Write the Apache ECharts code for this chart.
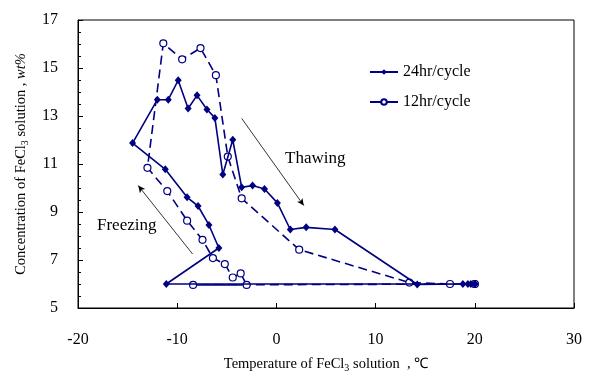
<!DOCTYPE html>
<html>
<head>
<meta charset="utf-8">
<script src="https://cdn.jsdelivr.net/npm/echarts@6/dist/echarts.min.js"></script>
<style>
  html, body { margin: 0; padding: 0; background: #fff; }
  #chart { width: 589px; height: 372px; }
</style>
</head>
<body>
<div id="chart"></div>
<script>
(function(){

    // 24hr/cycle : temperature (°C) and concentration (wt%), in recorded order
    var t24 = [20, -11.1, -5.8, -6.8, -7.9, -9.0, -11.2, -14.5, -12.0, -10.9, -9.9, -8.9, -8.0, -7.0, -6.2, -5.4, -4.4, -3.5, -2.4, -1.2, 0.1, 1.4, 3.0, 5.9, 14.2, 18.8, 19.3, 19.6, 20.0];
    var c24 = [6.0, 6.0, 7.5, 8.46, 9.25, 9.61, 10.78, 11.87, 13.68, 13.68, 14.49, 13.31, 13.86, 13.27, 12.92, 10.56, 12.01, 10.03, 10.1, 9.96, 9.38, 8.27, 8.36, 8.27, 5.98, 6.0, 6.0, 6.0, 6.0];

    // 12hr/cycle
    var t12 = [20, -8.4, -3.0, -3.6, -4.4, -5.2, -6.4, -7.45, -9.0, -11.0, -13.0, -11.4, -9.5, -7.65, -6.1, -4.9, -3.5, 2.3, 13.4, 17.5, 20.0];
    var c12 = [6.0, 5.96, 5.96, 6.44, 6.27, 6.83, 7.08, 7.84, 8.64, 9.87, 10.84, 16.03, 15.36, 15.83, 14.7, 11.31, 9.57, 7.43, 6.06, 6.0, 6.0];

    var xTicks = [-20, -10, 0, 10, 20, 30];
    var yTicks = [5, 7, 9, 11, 13, 15, 17];

    // arrows for the annotations, in data units
    var thawArrow = [[-3.5, 12.9], [2.76, 9.27]];
    var freezeArrow = [[-8.45, 7.25], [-13.93, 10.1]];

    var NAVY = '#000080';
    var FONT = '"Liberation Serif", "Times New Roman", serif';

    var pairs = function (xs, ys) {
        return xs.map(function (x, i) { return [x, ys[i]]; });
    };

    var chart = echarts.init(document.getElementById('chart'), null, {renderer: 'canvas'});

    var option = {
        animation: false,
        backgroundColor: '#fff',
        textStyle: {fontFamily: FONT, color: '#000'},
        grid: {
            left: 78, right: 15, top: 20, bottom: 64,
            outerBoundsMode: 'none', containLabel: false,
            show: true, borderColor: '#000', borderWidth: 1
        },
        legend: {
            orient: 'vertical',
            left: 364, top: 59,
            itemWidth: 28, itemHeight: 7, itemGap: 14,
            textStyle: {fontFamily: FONT, fontSize: 16, color: '#000'},
            data: [
                {name: '24hr/cycle'},
                {name: '12hr/cycle', lineStyle: {type: 'solid'}}   // legend sample drawn solid
            ]
        },
        xAxis: {
            type: 'value',
            min: xTicks[0], max: xTicks[xTicks.length - 1], interval: 10,
            axisLine: {onZero: false, lineStyle: {color: '#000', width: 1}},
            axisTick: {inside: true, length: 5, lineStyle: {color: '#000'}},
            splitLine: {show: false},
            axisLabel: {fontFamily: FONT, fontSize: 16, color: '#000', margin: 24},
            name: '{a|Temperature of FeCl}{s|3}{a| solution  , ℃}',
            nameLocation: 'middle', nameGap: 48,
            nameTextStyle: {
                rich: {
                    a: {fontFamily: FONT, fontSize: 14.5, color: '#000', lineHeight: 17},
                    s: {fontFamily: FONT, fontSize: 10, color: '#000', lineHeight: 17, verticalAlign: 'bottom', padding: [4, 0, 0, 0]}
                }
            }
        },
        yAxis: {
            type: 'value',
            min: yTicks[0], max: yTicks[yTicks.length - 1], interval: 2,
            axisLine: {show: true, onZero: false, lineStyle: {color: '#000', width: 1}},
            axisTick: {inside: true, length: 5, lineStyle: {color: '#000'}},
            minorTick: {show: true, splitNumber: 4, length: 3, lineStyle: {color: '#000'}},
            splitLine: {show: false},
            axisLabel: {fontFamily: FONT, fontSize: 16, color: '#000', margin: 20},
            name: '{a|Concentration of FeCl}{s|3}{a| solution , }{i|wt%}',
            nameLocation: 'middle', nameGap: 48, nameRotate: 90,
            nameTextStyle: {
                rich: {
                    a: {fontFamily: FONT, fontSize: 14.5, color: '#000', lineHeight: 17},
                    i: {fontFamily: FONT, fontSize: 14.5, color: '#000', lineHeight: 17, fontStyle: 'italic'},
                    s: {fontFamily: FONT, fontSize: 10, color: '#000', lineHeight: 17, verticalAlign: 'bottom', padding: [4, 0, 0, 0]}
                }
            }
        },
        series: [
            {
                name: '12hr/cycle',
                type: 'line',
                data: pairs(t12, c12),
                symbol: 'circle', symbolSize: 7,
                itemStyle: {color: '#fff', borderColor: NAVY, borderWidth: 1.2},
                lineStyle: {color: NAVY, width: 1.6, type: [9, 5]},
                z: 2
            },
            {
                name: '24hr/cycle',
                type: 'line',
                data: pairs(t24, c24),
                symbol: 'diamond', symbolSize: [7, 8],
                itemStyle: {color: NAVY},
                lineStyle: {color: NAVY, width: 1.6},
                z: 3,
                markLine: {
                    silent: true,
                    symbol: ['none', 'arrow'], symbolSize: [5, 7],
                    label: {show: false},
                    lineStyle: {color: '#000', width: 0.8, type: 'solid'},
                    data: [
                        [{coord: thawArrow[0]}, {coord: thawArrow[1]}],
                        [{coord: freezeArrow[0]}, {coord: freezeArrow[1]}]
                    ]
                }
            }
        ],
        graphic: [
            {type: 'text', left: 285, top: 150, style: {text: 'Thawing', fontFamily: FONT, fontSize: 17, fill: '#000'}},
            {type: 'text', left: 97, top: 217, style: {text: 'Freezing', fontFamily: FONT, fontSize: 17, fill: '#000'}}
        ]
    };

    chart.setOption(option);

})();
</script>
</body>
</html>
